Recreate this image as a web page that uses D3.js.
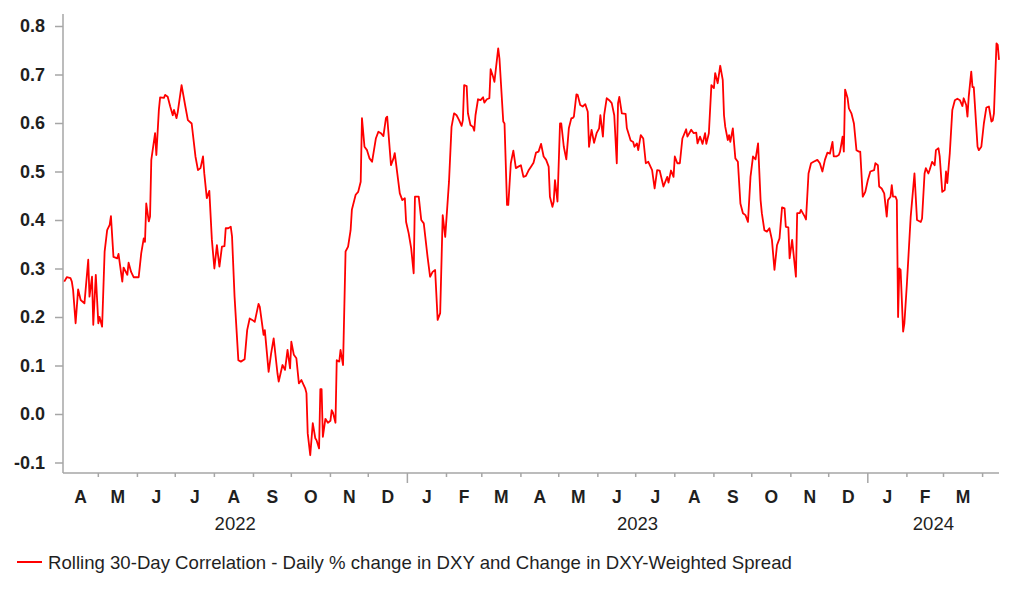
<!DOCTYPE html>
<html><head><meta charset="utf-8">
<script src="https://cdn.jsdelivr.net/npm/d3@7"></script>
<style>
body{margin:0;background:#fff}
svg{display:block}
text{font-family:"Liberation Sans",Arial,sans-serif;fill:#1f1f1f}
</style>
</head><body>
<svg id="chart" width="1022" height="597"></svg>
<script>
// ---- data ----
const monthKeys = ["2022-04","2022-05","2022-06","2022-07","2022-08","2022-09","2022-10","2022-11","2022-12",
  "2023-01","2023-02","2023-03","2023-04","2023-05","2023-06","2023-07","2023-08","2023-09","2023-10","2023-11","2023-12",
  "2024-01","2024-02","2024-03","2024-04"];
const obsDays = [
  [4,6,9,10,11,13,15,17,20,23,24,26,27,29],
  [1,2,4,6,8,10,11,13,16,17,20,21,24,25,27,29],
  [2,4,6,7,8,10,11,12,15,16,18,19,22,23,25,27,29,30],
  [2,3,6,9,11,14,17,19,21,23,24,26,28,30],
  [1,3,5,7,9,10,12,14,15,17,20,22,25,27,29,31],
  [2,5,6,9,10,13,15,17,20,21,24,26,28,30],
  [1,3,5,7,9,12,13,14,16,18,20,21,23,24,25,26,28,30],
  [1,2,3,5,6,8,9,11,13,15,17,18,21,23,25,26,28,30],
  [2,4,7,9,11,13,15,16,19,21,22,24,26,28,30,31],
  [2,4,6,7,10,12,14,17,19,21,23,25,27,29,31],
  [3,5,7,9,11,13,14,15,17,18,20,22,23,24,26,28],
  [2,3,5,7,8,10,11,14,15,18,19,21,22,24,26,28,30],
  [1,3,5,7,9,11,13,15,17,19,21,23,24,26,27,28,30],
  [2,3,5,7,9,11,12,13,15,16,18,20,22,24,25,27,29,31],
  [2,3,5,6,8,10,12,14,16,17,18,20,23,24,27,29,30],
  [2,3,5,7,9,11,14,16,18,20,23,26,27,29,31],
  [1,3,5,7,10,11,14,16,18,19,21,23,25,26,28,30],
  [1,2,4,6,8,9,10,12,13,14,16,18,20,22,24,26,28,30],
  [2,4,6,8,9,11,13,15,17,19,21,23,25,27,28,30,31],
  [2,5,6,8,9,12,13,15,17,19,22,24,26,28,30],
  [2,4,5,7,9,10,12,13,14,16,17,19,21,23,25,26,28,30],
  [1,3,6,7,9,10,12,14,16,17,19,20,21,23,24,25,26,27,29,30],
  [1,4,7,9,12,13,15,16,18,19,21,23,24,26,27,29],
  [2,3,4,6,8,10,12,14,16,17,19,20,21,23,24,25,27,28,29,31],
  [2,4,6,8,9,10,12,13,14]
];
const obsValues = [
  [.273,.282,.280,.273,.256,.187,.257,.235,.228,.318,.242,.283,.184,.287],
  [.187,.200,.180,.335,.379,.390,.408,.324,.321,.330,.273,.302,.287,.312,.293,.282],
  [.282,.331,.362,.355,.434,.397,.407,.524,.579,.534,.627,.653,.652,.658,.654,.634,.616,.627],
  [.610,.623,.678,.634,.606,.599,.531,.503,.507,.531,.496,.445,.460,.360],
  [.300,.348,.304,.345,.346,.383,.383,.386,.366,.242,.111,.108,.113,.173,.197,.194],
  [.190,.227,.221,.163,.173,.087,.125,.156,.084,.067,.101,.091,.132,.094],
  [.149,.122,.115,.063,.070,.053,.043,-.040,-.085,-.019,-.050,-.054,-.071,.051,.051,-.047,-.010,-.018],
  [-.014,.008,.003,-.018,.111,.108,.132,.101,.335,.345,.379,.421,.452,.458,.479,.610,.551,.544],
  [.527,.520,.568,.582,.579,.573,.610,.613,.513,.527,.538,.496,.455,.441,.445,.396],
  [.373,.342,.290,.448,.448,.400,.393,.324,.283,.293,.297,.194,.208,.410,.365],
  [.479,.592,.620,.616,.606,.594,.606,.678,.676,.620,.596,.592,.584,.616,.649,.647],
  [.653,.642,.649,.651,.711,.695,.685,.754,.733,.603,.599,.431,.431,.517,.543,.507,.510],
  [.513,.489,.491,.502,.510,.518,.539,.541,.557,.531,.524,.510,.448,.427,.438,.482,.438],
  [.599,.599,.551,.525,.589,.610,.610,.613,.659,.658,.637,.634,.639,.623,.551,.586,.559,.579],
  [.589,.616,.572,.616,.651,.647,.641,.616,.517,.641,.654,.620,.619,.589,.564,.561,.551],
  [.558,.544,.575,.568,.517,.520,.503,.465,.503,.502,.469,.489,.477,.502,.489],
  [.531,.517,.517,.568,.587,.572,.586,.579,.580,.558,.572,.557,.579,.557,.579,.678],
  [.672,.703,.682,.718,.689,.616,.592,.565,.575,.561,.589,.527,.520,.434,.414,.410,.396,.489],
  [.531,.525,.558,.441,.414,.379,.376,.383,.359,.297,.348,.362,.426,.424,.386,.385,.321],
  [.359,.283,.414,.414,.421,.407,.401,.496,.517,.520,.524,.517,.500,.524,.539],
  [.537,.561,.531,.531,.534,.541,.572,.541,.669,.651,.630,.620,.599,.544,.541,.541,.448,.458],
  [.482,.500,.503,.517,.513,.469,.465,.455,.407,.441,.448,.472,.448,.448,.441,.200,.300,.297,.170,.187],
  [.269,.407,.496,.400,.396,.403,.496,.507,.496,.503,.520,.513,.544,.548,.531,.458],
  [.462,.500,.476,.538,.627,.647,.650,.647,.635,.651,.637,.613,.654,.706,.674,.674,.592,.551,.544,.551],
  [.599,.632,.634,.603,.605,.620,.764,.761,.730]
];
const yTickValues = [-0.1, 0.0, 0.1, 0.2, 0.3, 0.4, 0.5, 0.6, 0.7, 0.8];
const monthLetters = ["A","M","J","J","A","S","O","N","D","J","F","M","A","M","J","J","A","S","O","N","D","J","F","M"];
const yearLabels = ["2022","2023","2024"];
const xStart = "2022-04-03", xEnd = "2024-04-14";
const legendLabel = "Rolling 30-Day Correlation - Daily % change in DXY and Change in DXY-Weighted Spread";

// ---- build ----
const parse = d3.utcParse("%Y-%m-%d");
const data = [];
monthKeys.forEach((m, i) => obsDays[i].forEach((d, j) =>
  data.push({date: parse(m + "-" + String(d).padStart(2, "0")), value: obsValues[i][j]})));

const svg = d3.select("#chart");
const d0 = parse(xStart), d1 = parse(xEnd);
const x = d3.scaleUtc().domain([d0, d1]).range([63, 999]);
const y = d3.scaleLinear().domain([-0.1, 0.8]).range([462.5, 26]);
const axisColor = "#a6a6a6";
const axisY = 473, plotTop = 14;

// y axis
const yAxis = d3.axisLeft(y).tickValues(yTickValues).tickFormat(v => v.toFixed(1)).tickSize(8).tickPadding(10);
const gy = svg.append("g").attr("transform", `translate(${x.range()[0]},0)`).call(yAxis);
gy.select(".domain").remove();
gy.selectAll(".tick line").attr("stroke", axisColor).attr("stroke-width", 1.5);
gy.selectAll(".tick text").attr("font-size", 18).attr("font-weight", "bold")
  .attr("font-family", '"Liberation Sans",Arial,sans-serif').attr("fill", "#1f1f1f");
svg.append("line").attr("x1", x.range()[0]).attr("x2", x.range()[0]).attr("y1", plotTop).attr("y2", axisY)
  .attr("stroke", axisColor).attr("stroke-width", 1.5);

// x axis
svg.append("line").attr("x1", x.range()[0]).attr("x2", x.range()[1]).attr("y1", axisY).attr("y2", axisY)
  .attr("stroke", axisColor).attr("stroke-width", 1.5);
const monthStarts = d3.utcMonth.range(d3.utcMonth.ceil(d0), d1);
svg.append("g").selectAll("line").data(monthStarts).join("line")
  .attr("x1", d => x(d)).attr("x2", d => x(d))
  .attr("y1", axisY).attr("y2", d => axisY + (d.getUTCMonth() === 0 ? 10 : 4))
  .attr("stroke", axisColor).attr("stroke-width", 1.5);

const monthBins = d3.utcMonth.range(d3.utcMonth.floor(d0), d1).slice(0, monthLetters.length);
svg.append("g").selectAll("text").data(monthBins).join("text")
  .attr("x", d => (x(d3.max([d, d0])) + x(d3.min([d3.utcMonth.offset(d, 1), d1]))) / 2)
  .attr("y", 503).attr("text-anchor", "middle").attr("font-size", 17.5).attr("font-weight", "bold")
  .text((d, i) => monthLetters[i]);

const yearStarts = yearLabels.map(t => d3.utcParse("%Y")(t));
svg.append("g").selectAll("text").data(yearStarts).join("text")
  .attr("x", d => (x(d3.max([d, d0])) + x(d3.min([d3.utcYear.offset(d, 1), d1]))) / 2)
  .attr("y", 530).attr("text-anchor", "middle").attr("font-size", 18.5)
  .text((d, i) => yearLabels[i]);

// series
svg.append("path").datum(data)
  .attr("fill", "none").attr("stroke", "#ff0000").attr("stroke-width", 1.8)
  .attr("stroke-linejoin", "round")
  .attr("d", d3.line().x(d => x(d.date)).y(d => y(d.value)));

// legend
svg.append("line").attr("x1", 17).attr("x2", 42).attr("y1", 562).attr("y2", 562)
  .attr("stroke", "#ff0000").attr("stroke-width", 2);
svg.append("text").attr("x", 48).attr("y", 568.5).attr("font-size", 18.6).text(legendLabel);
</script>
</body></html>
